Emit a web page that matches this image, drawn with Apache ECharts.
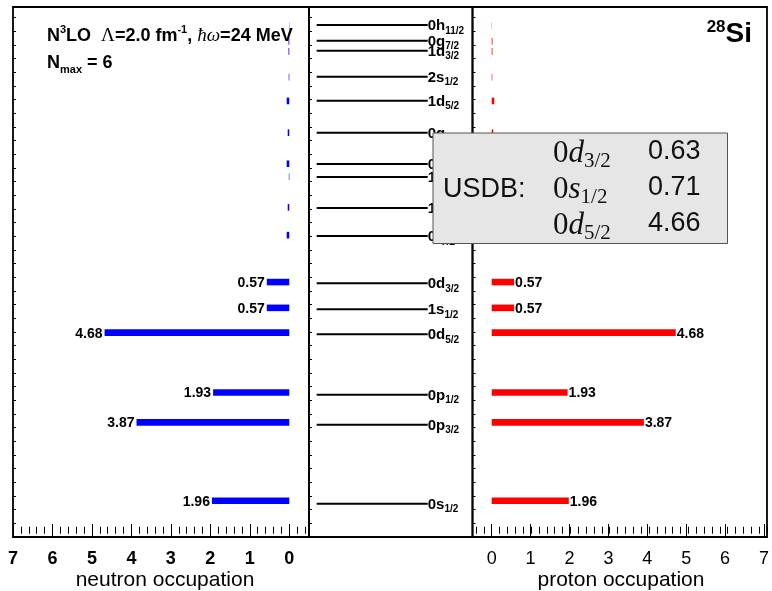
<!DOCTYPE html>
<html><head><meta charset="utf-8">
<script src="https://cdn.jsdelivr.net/npm/echarts@6/dist/echarts.min.js"></script>
<style>html,body{margin:0;padding:0;background:#fff}#c{width:772px;height:591px}</style>
</head><body><div id="c"></div><script>
// ---- data ----
const levelOrbit  = ['0s','0p','0p','0d','1s','0d','0f','1p','1p','0f','0g','1d','2s','1d','0g','0h'];
const levelJ      = ['1/2','3/2','1/2','5/2','1/2','3/2','7/2','3/2','1/2','5/2','9/2','5/2','1/2','3/2','7/2','11/2'];
const levelEnergy = [33.3,112.3,142.3,202.7,227.7,253.7,301,329,360,373,404.3,436.3,460.3,486.3,496.3,512];
const neutronOcc  = [1.96,3.87,1.93,4.68,0.57,0.57,0.066,0.04,0.012,0.066,0.04,0.066,0.015,0.02,0.02,0.006];
const protonOcc   = [1.96,3.87,1.93,4.68,0.57,0.57,0.066,0.04,0.012,0.066,0.04,0.066,0.015,0.02,0.02,0.006];
const occTicks    = [0,1,2,3,4,5,6,7];
const axisTitles  = ['neutron occupation','proton occupation'];
const usdbOrbit   = ['0d','0s','0d'];
const usdbJ       = ['3/2','1/2','5/2'];
const usdbOcc     = [0.63,0.71,4.66];

const SANS = 'Liberation Sans, Arial, sans-serif';
const SERIF = 'Liberation Serif, Times New Roman, serif';
const occMin = occTicks[0], occMax = occTicks[occTicks.length-1];

const chart = echarts.init(document.getElementById('c'), null, {renderer:'canvas'});

function frameGrid(left, width){ return {left, top:7, width, height:530, show:true, borderColor:'#000', borderWidth:1.8, backgroundColor:'transparent', containLabel:false}; }
function plainGrid(left, width){ return {left, top:7, width, height:530, show:false, containLabel:false}; }

function hiddenX(gi, min, max, inverse){ return {type:'value', gridIndex:gi, min, max, inverse:!!inverse, show:false}; }
function hiddenY(gi, min, max){ return {type:'value', gridIndex:gi, min, max, show:false}; }
function tickY(gi){ return {type:'value', gridIndex:gi, min:0, max:530, interval:13.67, axisLine:{show:false}, axisLabel:{show:false}, splitLine:{show:false}, axisTick:{show:true, inside:true, length:3, lineStyle:{color:'#000', width:1}}}; }
function minorX(gi, inverse){ return {type:'value', gridIndex:gi, min:-0.4, max:occMax, interval:0.2, inverse:!!inverse, axisLine:{show:false}, axisLabel:{show:false}, splitLine:{show:false}, axisTick:{show:true, inside:true, length:7, lineStyle:{color:'#000', width:1}}}; }
function majorX(gi, inverse, bold){ return {type:'value', gridIndex:gi, min:occMin, max:occMax, interval:1, inverse:!!inverse, axisLine:{show:false}, splitLine:{show:false}, axisTick:{show:true, inside:true, length:13, lineStyle:{color:'#000', width:1}}, axisLabel:{show:true, margin:13, fontFamily:SANS, fontSize:18, fontWeight: bold?'bold':'normal', color:'#000'}}; }

const PXL = 39.47, PXR = 39.33;
const grids = [
  frameGrid(13, 296),                          // 0 left frame
  plainGrid(13, 7.4*PXL),                      // 1 left data (-0.4..7)
  plainGrid(13, 7*PXL),                        // 2 left major ticks (0..7)
  frameGrid(309, 163.5),                       // 3 middle
  frameGrid(472.5, 294.5),                     // 4 right frame
  plainGrid(491.7-0.4*PXR, 7.4*PXR),           // 5 right data
  plainGrid(491.7, 7*PXR)                      // 6 right major
];

const xAxes = [
  hiddenX(0, 0, 1),
  minorX(1, true),
  majorX(2, true, true),
  hiddenX(3, 0, 1),
  hiddenX(4, 0, 1),
  minorX(5, false),
  majorX(6, false, false)
];
const yAxes = [
  tickY(0),
  hiddenY(1, -3.3, 531),
  hiddenY(2, 0, 1),
  tickY(3),
  tickY(4),
  hiddenY(5, -3.3, 531),
  hiddenY(6, 0, 1)
];

function barRenderer(color, leftSide){
  return function(params, api){
    const v = api.value(0), e = api.value(1);
    const p0 = api.coord([0, e]), p1 = api.coord([v, e]);
    const x = Math.min(p0[0], p1[0]), w = Math.abs(p1[0]-p0[0]);
    const children = [{type:'rect', shape:{x, y:p0[1]-3.3, width:w, height:6.6}, style:{fill:color}}];
    if (v >= 0.1) {
      children.push({type:'text', style:{text:v.toFixed(2), x: leftSide ? p1[0]-2 : p1[0]+1, y:p0[1]+1,
        align: leftSide?'right':'left', verticalAlign:'middle', fontFamily:SANS, fontSize:14, fontWeight:'bold', fill:'#000'}});
    }
    return {type:'group', children};
  };
}

function levelRenderer(params, api){
  const i = params.dataIndex, e = api.value(1);
  const a = api.coord([0.047, e]), b = api.coord([0.726, e]);
  return {type:'group', children:[
    {type:'line', shape:{x1:a[0], y1:a[1], x2:b[0], y2:b[1]}, style:{stroke:'#000', lineWidth:2}},
    {type:'text', style:{text:'{m|'+levelOrbit[i]+'}{s|'+levelJ[i]+'}', x:b[0], y:a[1]+1, align:'left', verticalAlign:'middle',
      rich:{ m:{fontFamily:SANS, fontSize:15, fontWeight:'bold', fill:'#000', lineHeight:20},
             s:{fontFamily:SANS, fontSize:10, fontWeight:'bold', fill:'#000', lineHeight:10, verticalAlign:'bottom'} }}}
  ]};
}

const series = [
  {type:'custom', name:'neutron', xAxisIndex:1, yAxisIndex:1, silent:true, clip:false,
   data: neutronOcc.map((v,i)=>[v, levelEnergy[i]]), renderItem: barRenderer('#0000ff', true)},
  {type:'custom', name:'proton', xAxisIndex:5, yAxisIndex:5, silent:true, clip:false,
   data: protonOcc.map((v,i)=>[v, levelEnergy[i]]), renderItem: barRenderer('#ff0000', false)},
  {type:'custom', name:'levels', xAxisIndex:3, yAxisIndex:3, silent:true, clip:false,
   data: levelEnergy.map(e=>[0.5, e]), renderItem: levelRenderer}
];

// annotation texts
const richTop = {
  b:{fontFamily:SANS, fontSize:18, fontWeight:'bold', fill:'#000', lineHeight:24},
  g:{fontFamily:SERIF, fontSize:19, fill:'#000', lineHeight:24},
  gi:{fontFamily:SERIF, fontSize:19, fontStyle:'italic', fill:'#000', lineHeight:24},
  sup:{fontFamily:SANS, fontSize:11, fontWeight:'bold', fill:'#000', lineHeight:13, verticalAlign:'top'},
  sub:{fontFamily:SANS, fontSize:11, fontWeight:'bold', fill:'#000', lineHeight:13, verticalAlign:'bottom'}
};
const graphic = [
  {type:'text', x:47, y:36, z:50, style:{text:'{b|N}{sup|3}{b|LO  }{g|Λ}{b|=2.0 fm}{sup|-1}{b|, }{gi|ħω}{b|=24 MeV}', verticalAlign:'middle', align:'left', rich:richTop}},
  {type:'text', x:47, y:63, z:50, style:{text:'{b|N}{sub|max}{b| = 6}', verticalAlign:'middle', align:'left', rich:richTop}},
  {type:'text', x:752, y:34, z:50, style:{text:'{sup|28}{m|Si}', align:'right', verticalAlign:'middle',
    rich:{ m:{fontFamily:SANS, fontSize:28, fontWeight:'bold', fill:'#000', lineHeight:30},
           sup:{fontFamily:SANS, fontSize:17, fontWeight:'bold', fill:'#000', lineHeight:18, verticalAlign:'top'} }}},
  {type:'text', x:165, y:580, z:50, style:{text:axisTitles[0], align:'center', verticalAlign:'middle', fontFamily:SANS, fontSize:21, fill:'#000'}},
  {type:'text', x:621, y:580, z:50, style:{text:axisTitles[1], align:'center', verticalAlign:'middle', fontFamily:SANS, fontSize:21, fill:'#000'}},
  {type:'rect', z:100, shape:{x:433, y:133, width:294.5, height:110.5}, style:{fill:'#e6e6e6', stroke:'#555', lineWidth:1}},
  {type:'text', z:101, x:443, y:190, style:{text:'USDB:', align:'left', verticalAlign:'middle', fontFamily:SANS, fontSize:27, fill:'#111'}}
];
usdbOrbit.forEach((o, k)=>{
  const y = 151 + 36*k;
  graphic.push({type:'text', z:101, x:553, y:y+3, style:{text:'{r|'+o[0]+'}{i|'+o.slice(1)+'}{s|'+usdbJ[k]+'}', align:'left', verticalAlign:'middle',
    rich:{ r:{fontFamily:SERIF, fontSize:31, fill:'#111', lineHeight:36},
           i:{fontFamily:SERIF, fontSize:31, fontStyle:'italic', fill:'#111', lineHeight:36},
           s:{fontFamily:SERIF, fontSize:21, fill:'#111', lineHeight:20, verticalAlign:'bottom'} }}});
  graphic.push({type:'text', z:101, x:648, y:y+1, style:{text:usdbOcc[k].toFixed(2), align:'left', verticalAlign:'middle', fontFamily:SANS, fontSize:27, fill:'#111'}});
});

chart.setOption({
  animation:false,
  backgroundColor:'#fff',
  grid: grids, xAxis: xAxes, yAxis: yAxes, series, graphic
});
</script></body></html>
